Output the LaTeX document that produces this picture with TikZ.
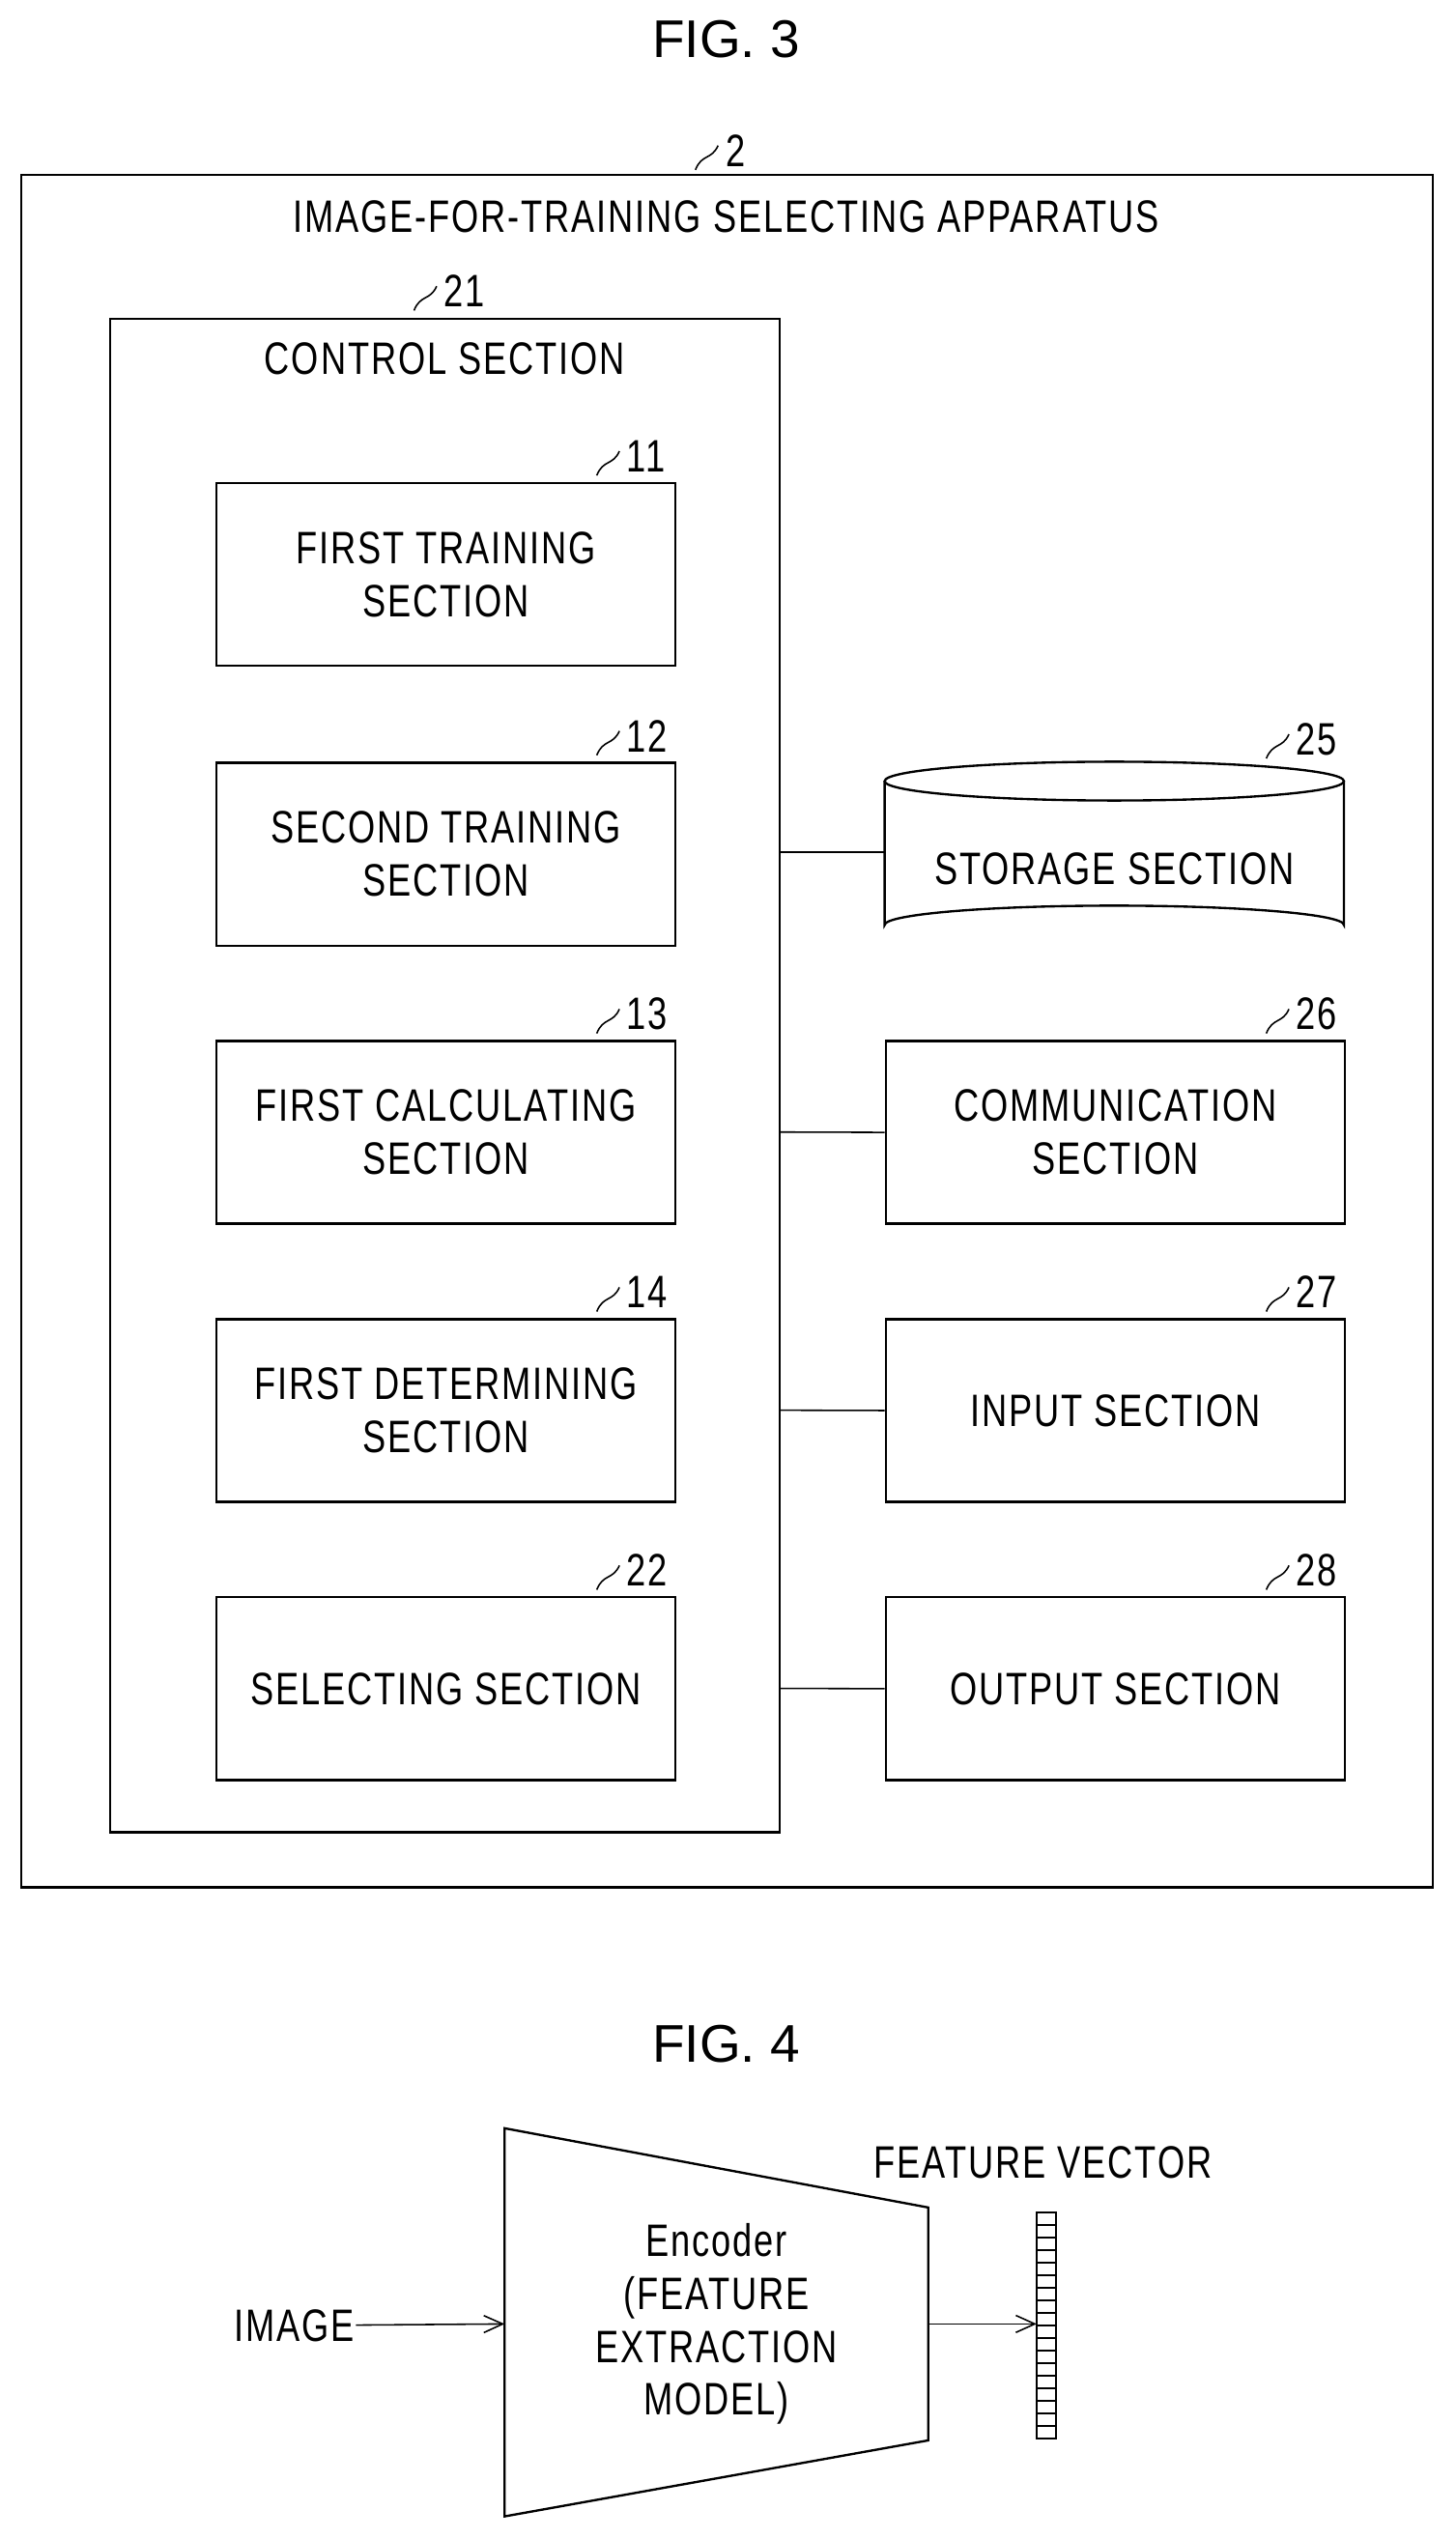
\documentclass[tikz,border=0pt]{standalone}
\usepackage{fontspec}
\setmainfont{Liberation Sans}
\newfontfamily\narrowfont[FakeStretch=0.77,LetterSpace=4]{Liberation Sans}
\usetikzlibrary{arrows.meta}
\begin{document}
\begin{tikzpicture}[x=0.03cm,y=-0.03cm,line width=1.2pt,
  box/.style={draw,minimum width=284*0.03cm,minimum height=113*0.03cm,anchor=north west,align=center,inner sep=0pt},
  txt/.style={font=\narrowfont\fontsize{24}{28}\selectfont,align=center,inner sep=0pt},
  fig/.style={font=\fontsize{28}{34}\selectfont,inner sep=0pt},
  arr/.style={line width=0.8pt,-{Straight Barb[length=10pt,width=9pt]}}]
  \useasboundingbox (0,0) rectangle (900,1570);

  % leader label: squiggle and number
  \newcommand{\refnum}[3]{%
    \draw[line width=0.8pt] (#1-10,#2+12) .. controls (#1-6,#2+2) and (#1,#2+6) .. (#1+4,#2-3);
    \node[txt,anchor=west] at (#1+8,#2) {#3};}

  \node[fig] (fig3) at (449,24) {FIG. 3};

  % apparatus and control section
  \draw (13,108) rectangle (886,1167);
  \node[txt] (app) at (449,134) {IMAGE-FOR-TRAINING SELECTING APPARATUS};
  \refnum{440}{93}{2}
  \draw (68,197) rectangle (482,1133);
  \node[txt] (ctrl) at (275,222) {CONTROL SECTION};
  \refnum{266}{180}{21}

  % sections inside control section
  \node[box] (b11) at (133,298) {};
  \node[txt] at (b11) {FIRST TRAINING\\SECTION};
  \refnum{379}{282}{11}
  \node[box] (b12) at (133,471) {};
  \node[txt] at (b12) {SECOND TRAINING\\SECTION};
  \refnum{379}{455}{12}
  \node[box] (b13) at (133,643) {};
  \node[txt] at (b13) {FIRST CALCULATING\\SECTION};
  \refnum{379}{627}{13}
  \node[box] (b14) at (133,815) {};
  \node[txt] at (b14) {FIRST DETERMINING\\SECTION};
  \refnum{379}{799}{14}
  \node[box] (b22) at (133,987) {};
  \node[txt] at (b22) {SELECTING SECTION};
  \refnum{379}{971}{22}

  % storage cylinder
  \draw (547,483) -- (547,572) arc[start angle=180,end angle=360,x radius=142,y radius=12]
        -- (831,483);
  \draw (689,483) ellipse[x radius=142,y radius=12];
  \node[txt] (b25) at (689,537) {STORAGE SECTION};
  \coordinate (s25) at (547,527);
  \refnum{793}{457}{25}

  % other sections
  \node[box] (b26) at (547,643) {};
  \node[txt] at (b26) {COMMUNICATION\\SECTION};
  \refnum{793}{627}{26}
  \node[box] (b27) at (547,815) {};
  \node[txt] at (b27) {INPUT SECTION};
  \refnum{793}{799}{27}
  \node[box] (b28) at (547,987) {};
  \node[txt] at (b28) {OUTPUT SECTION};
  \refnum{793}{971}{28}

  \coordinate (c1) at (482,527);
  \coordinate (c2) at (482,700);
  \coordinate (c3) at (482,872);
  \coordinate (c4) at (482,1044);
  \draw[line width=0.8pt] (c1) -- (s25);
  \draw[line width=0.8pt] (c2) -- (b26.west);
  \draw[line width=0.8pt] (c3) -- (b27.west);
  \draw[line width=0.8pt] (c4) -- (b28.west);

  % FIG. 4
  \node[fig] (fig4) at (449,1264) {FIG. 4};
  \draw (312,1316) -- (574,1365) -- (574,1509) -- (312,1556) -- cycle;
  \coordinate (encin) at (312,1437);
  \coordinate (encout) at (574,1437);
  \node[txt] (enc) at (443,1437) {Encoder\\(FEATURE\\EXTRACTION\\MODEL)};
  \node[txt,anchor=east] (img) at (220,1438) {IMAGE};
  \node[txt] (fvlabel) at (645,1337) {FEATURE VECTOR};
  \draw (641,1368) rectangle (653,1508);
  \foreach \i in {1,...,17} \draw[line width=0.8pt] (641,1368+\i*140/18) -- (653,1368+\i*140/18);
  \coordinate (fv) at (641,1437);
  \draw[arr] (img) -- (encin);
  \draw[arr] (encout) -- (fv);
\end{tikzpicture}
\end{document}
